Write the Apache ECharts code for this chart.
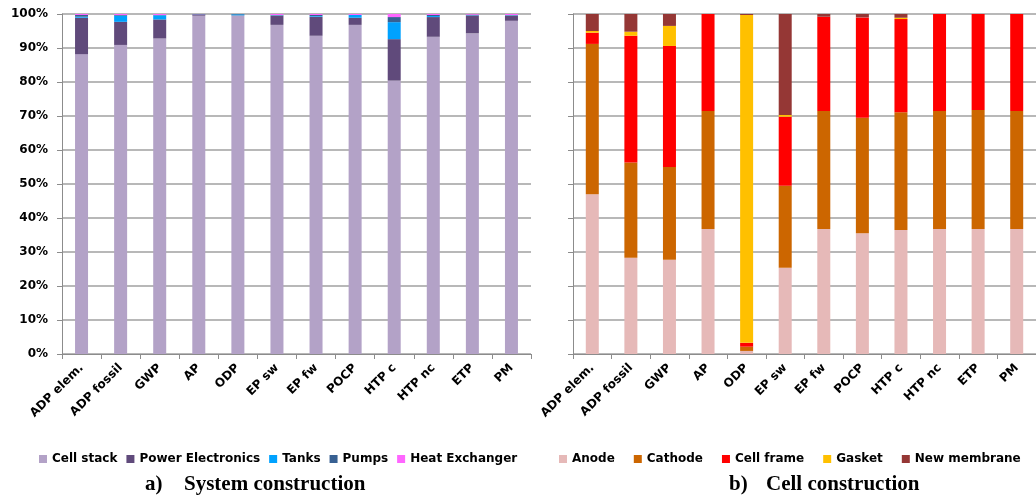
<!DOCTYPE html>
<html>
<head>
<meta charset="utf-8">
<script src="https://cdn.jsdelivr.net/npm/echarts@6/dist/echarts.min.js"></script>
<style>
  html, body { margin: 0; padding: 0; background: #fff; }
  #chart { width: 1036px; height: 496px; }
</style>
</head>
<body>
<div id="chart"></div>
<script>
// Impact categories shared by both panels
const categories = ['ADP elem.', 'ADP fossil', 'GWP', 'AP', 'ODP', 'EP sw', 'EP fw', 'POCP', 'HTP c', 'HTP nc', 'ETP', 'PM'];

// a) System construction — share of each component (%)
const systemNames = ['Cell stack', 'Power Electronics', 'Tanks', 'Pumps', 'Heat Exchanger'];
const cellStack        = [88.2, 90.9, 92.8, 99.5, 99.5, 96.8, 93.6, 96.8, 80.4, 93.3, 94.3, 98.0];
const powerElectronics = [10.7, 6.8, 5.6, 0.3, 0.1, 2.7, 5.6, 2.1, 12.2, 5.8, 5.3, 1.5];
const tanks            = [0.3, 1.8, 1.2, 0.05, 0.3, 0.1, 0.2, 0.8, 5.0, 0.3, 0.1, 0.1];
const pumps            = [0.5, 0.2, 0.1, 0.1, 0.1, 0.1, 0.3, 0.0, 1.5, 0.3, 0.1, 0.1];
const heatExchanger    = [0.3, 0.3, 0.3, 0.05, 0.0, 0.3, 0.3, 0.3, 0.9, 0.3, 0.2, 0.3];

// b) Cell construction — share of each component (%)
const cellNames = ['Anode', 'Cathode', 'Cell frame', 'Gasket', 'New membrane'];
const anode       = [47.0, 28.3, 27.7, 36.8, 0.9, 25.4, 36.8, 35.5, 36.5, 36.8, 36.8, 36.8];
const cathode     = [44.2, 28.0, 27.3, 34.7, 1.25, 24.1, 34.7, 34.0, 34.6, 34.7, 35.0, 34.7];
const cellFrame   = [3.3, 37.3, 35.6, 28.5, 1.15, 20.3, 27.7, 29.5, 27.4, 28.5, 28.2, 28.5];
const gasket      = [0.5, 1.2, 5.9, 0.0, 96.4, 0.5, 0.0, 0.0, 0.4, 0.0, 0.0, 0.0];
const newMembrane = [5.0, 5.2, 3.5, 0.0, 0.3, 29.7, 0.8, 1.0, 1.1, 0.0, 0.0, 0.0];

const yTicks = [0, 10, 20, 30, 40, 50, 60, 70, 80, 90, 100];

const systemValues = [cellStack, powerElectronics, tanks, pumps, heatExchanger];
const systemColors = ['#B3A2C7', '#604A7B', '#00A2FF', '#376092', '#FF66FF'];
const cellValues = [anode, cathode, cellFrame, gasket, newMembrane];
const cellColors = ['#E6B9B8', '#CC6600', '#FF0000', '#FFC000', '#953735'];

const labelFont = { fontFamily: 'DejaVu Sans', fontWeight: 'bold', fontSize: 12, color: '#000' };
const gridLineColor = '#A0A0A0';

function xAxis(gridIndex) {
  return {
    type: 'category', gridIndex, data: categories,
    axisLine: { lineStyle: { color: '#8c8c8c', width: 1 } },
    axisTick: { show: true, length: 5, lineStyle: { color: '#8c8c8c' } },
    axisLabel: Object.assign({ rotate: 45, interval: 0, margin: 12 }, labelFont)
  };
}

function yAxis(gridIndex, showLabels) {
  return {
    type: 'value', gridIndex, min: yTicks[0], max: yTicks[yTicks.length - 1], interval: 10,
    axisLine: { show: true, lineStyle: { color: '#8c8c8c', width: 1 } },
    axisTick: { show: true, length: 5, lineStyle: { color: '#8c8c8c' } },
    splitLine: { show: true, lineStyle: { color: gridLineColor, width: 1.5 } },
    axisLabel: Object.assign({ show: showLabels, margin: 14, formatter: '{value}%' }, labelFont)
  };
}

function makeSeries(names, values, colors, idx, stack) {
  return names.map((name, i) => ({
    name, type: 'bar', stack, xAxisIndex: idx, yAxisIndex: idx,
    barWidth: 13, data: values[i],
    itemStyle: { color: colors[i] }
  }));
}

const legendText = { fontFamily: 'DejaVu Sans', fontWeight: 'bold', fontSize: 12, color: '#000' };
const titleFont = 'bold 21px "Liberation Serif"';

const chart = echarts.init(document.getElementById('chart'), null, { renderer: 'canvas' });
chart.setOption({
  animation: false,
  backgroundColor: '#fff',
  grid: [
    { left: 62, right: 505, top: 14, bottom: 142 },
    { left: 573, right: -6, top: 14, bottom: 142 }
  ],
  xAxis: [xAxis(0), xAxis(1)],
  yAxis: [yAxis(0, true), yAxis(1, false)],
  legend: [
    { data: systemNames, left: 34, top: 448, itemWidth: 8, itemHeight: 8, itemGap: 9,
      icon: 'rect', textStyle: legendText },
    { data: cellNames, left: 554, top: 448, itemWidth: 8, itemHeight: 8, itemGap: 19,
      icon: 'rect', textStyle: legendText }
  ],
  graphic: [
    { type: 'text', left: 145, top: 474, style: { text: 'a)', font: titleFont, fill: '#000' } },
    { type: 'text', left: 184, top: 474, style: { text: 'System construction', font: titleFont, fill: '#000' } },
    { type: 'text', left: 729, top: 474, style: { text: 'b)', font: titleFont, fill: '#000' } },
    { type: 'text', left: 766, top: 474, style: { text: 'Cell construction', font: titleFont, fill: '#000' } }
  ],
  series: [
    ...makeSeries(systemNames, systemValues, systemColors, 0, 'system'),
    ...makeSeries(cellNames, cellValues, cellColors, 1, 'cell')
  ]
});
</script>
</body>
</html>
